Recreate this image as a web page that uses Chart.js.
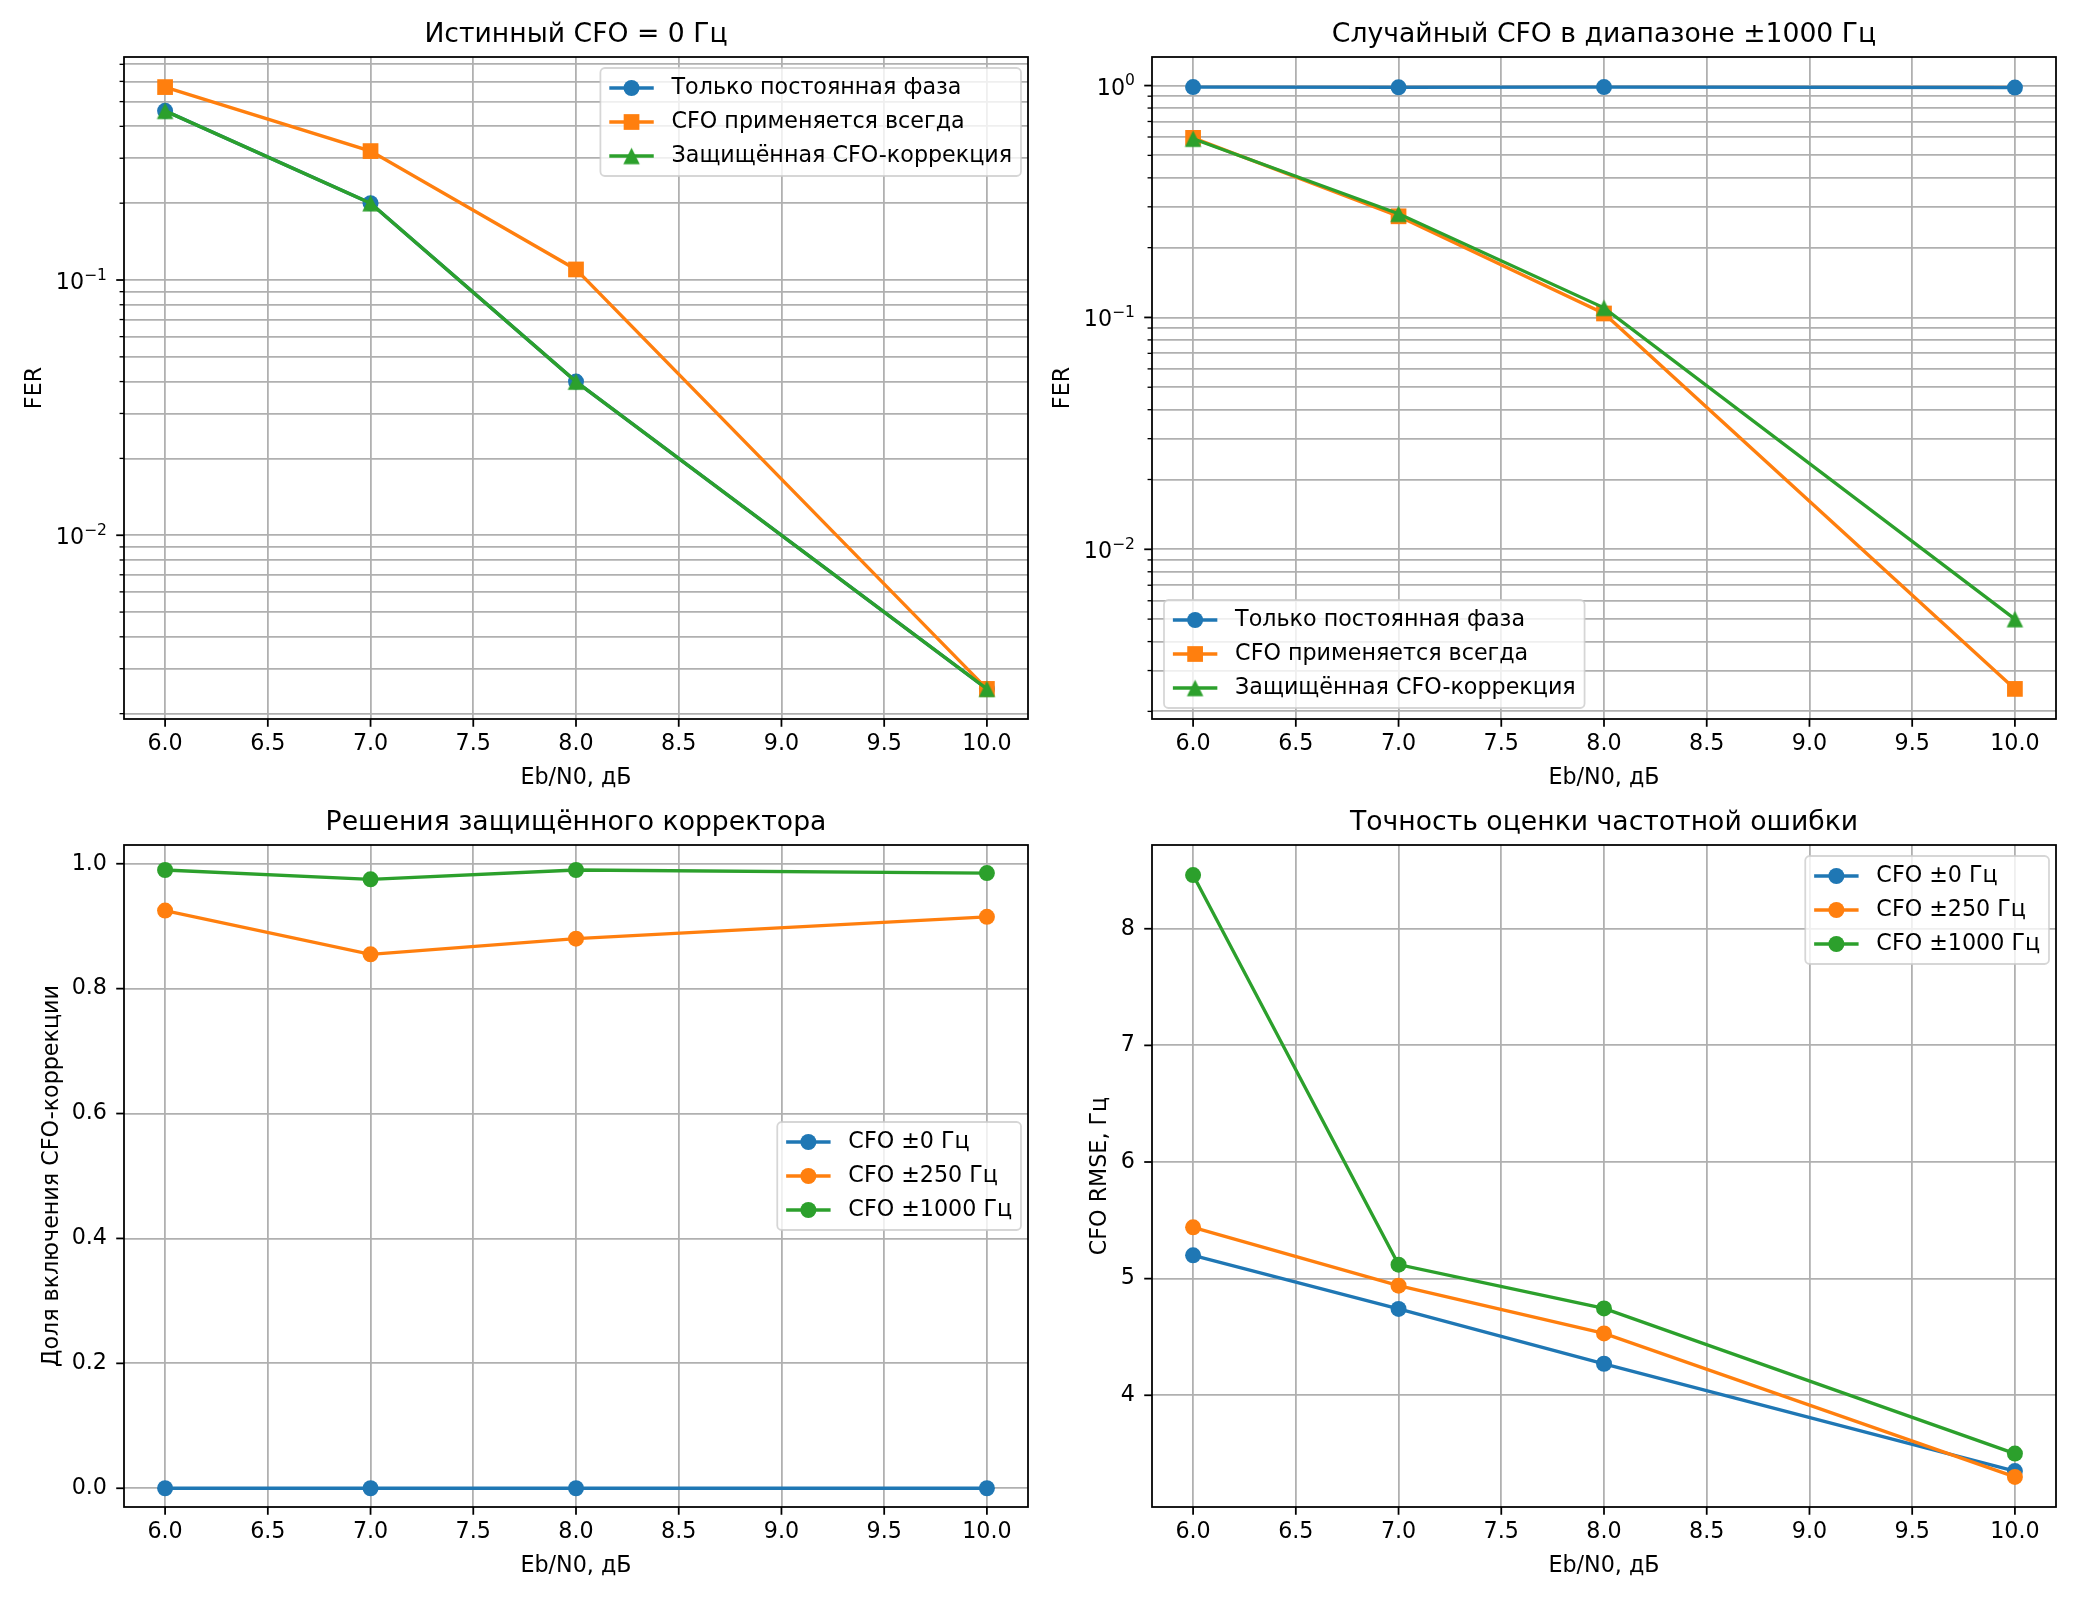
<!DOCTYPE html>
<html>
<head>
<meta charset="utf-8">
<script src="https://cdn.jsdelivr.net/npm/chart.js@4.4.1/dist/chart.umd.min.js"></script>
<style>
  html, body { margin: 0; padding: 0; background: #fff; }
  canvas { position: absolute; }
</style>
</head>
<body>
<canvas id="ferZero" width="1040" height="800" style="left:0;top:0"></canvas>
<canvas id="ferRandom" width="1040" height="800" style="left:1028px;top:0"></canvas>
<canvas id="decisions" width="1040" height="800" style="left:0;top:788px"></canvas>
<canvas id="rmse" width="1040" height="800" style="left:1028px;top:788px"></canvas>
<script>
// ---- data ----
const ebN0 = [6, 7, 8, 10];

// True CFO = 0 Hz
const ferZeroPhase = [0.46, 0.2, 0.04, 0.0025];
const ferZeroAlways = [0.57, 0.32, 0.11, 0.0025];
const ferZeroGuarded = [0.46, 0.2, 0.04, 0.0025];

// Random CFO within +-1000 Hz
const ferRandPhase = [0.985, 0.9825, 0.985, 0.98];
const ferRandAlways = [0.595, 0.273, 0.104, 0.0025];
const ferRandGuarded = [0.59, 0.28, 0.11, 0.005];

// share of frames where CFO correction was enabled
const enable0 = [0, 0, 0, 0];
const enable250 = [0.925, 0.855, 0.88, 0.915];
const enable1000 = [0.99, 0.975, 0.99, 0.985];

// CFO estimate RMSE, Hz
const rmse0 = [5.2, 4.74, 4.27, 3.35];
const rmse250 = [5.44, 4.94, 4.53, 3.3];
const rmse1000 = [8.46, 5.12, 4.745, 3.5];

// ticks
const xTicks = [6, 6.5, 7, 7.5, 8, 8.5, 9, 9.5, 10];
const xTickLabels = ['6.0', '6.5', '7.0', '7.5', '8.0', '8.5', '9.0', '9.5', '10.0'];
const ferTicks = [0.01, 0.1, 1];
const ferTickBase = '10';
const ferTickExponents = ['\u22122', '\u22121', '0'];
const shareTicks = [0, 0.2, 0.4, 0.6, 0.8, 1.0];
const shareTickLabels = ['0.0', '0.2', '0.4', '0.6', '0.8', '1.0'];
const rmseTicks = [4, 5, 6, 7, 8];
const rmseTickLabels = ['4', '5', '6', '7', '8'];
const shareLimits = [-0.03, 1.03];

const seriesNames = ['Только постоянная фаза', 'CFO применяется всегда', 'Защищённая CFO-коррекция'];
const cfoNames = ['CFO ±0 Гц', 'CFO ±250 Гц', 'CFO ±1000 Гц'];

// ---- style ----
const FONT = 'DejaVu Sans';
const PT = 160 / 72;
const COLORS = ['#1f77b4', '#ff7f0e', '#2ca02c'];
const AXIS_LEFT = 124;
const AXIS_BOTTOM_H = 81;
const TICK_FS = 10 * PT;

Chart.defaults.font.family = FONT;
Chart.defaults.color = '#000';

/**
 * matplotlib-like autoscale with 5% margins
 */
function linRange(values) {
    const lo = Math.min(...values), hi = Math.max(...values);
    const m = (hi - lo) * 0.05;
    return [lo - m, hi + m];
}

function logRange(values) {
    const logs = values.map(v => Math.log10(v));
    const [lo, hi] = linRange(logs);
    return [Math.pow(10, lo), Math.pow(10, hi)];
}

// major + minor ticks of a log axis
function logTickValues(min, max) {
    const out = [];
    for (let e = Math.floor(Math.log10(min)); e <= Math.ceil(Math.log10(max)); e++) {
        for (let k = 1; k < 10; k++) {
            const v = k * Math.pow(10, e);
            if (v >= min && v <= max) out.push(v);
        }
    }
    return out;
}

function tickIndex(values, v) {
    return values.findIndex(t => Math.abs(t - v) < 1e-9 * Math.max(1, Math.abs(t)));
}

function labelFor(values, labels, v) {
    const i = tickIndex(values, v);
    return i >= 0 ? labels[i] : '';
}

// matplotlib style "^" marker: isoceles triangle, bbox centred
function triangleMarker(color, size) {
    const c = document.createElement('canvas');
    const n = Math.ceil(size) + 2;
    c.width = n;
    c.height = n;
    const g = c.getContext('2d');
    const m = n / 2, h = size / 2;
    g.fillStyle = color;
    g.beginPath();
    g.moveTo(m, m - h);
    g.lineTo(m + h, m + h);
    g.lineTo(m - h, m + h);
    g.closePath();
    g.fill();
    return c;
}

/**
 * Frame, black tick marks and power-of-ten labels
 */
const frameAndTicks = {
    id: 'frameAndTicks',
    afterDatasetsDraw(chart, args, opts) {
        const {ctx, chartArea: a} = chart;
        ctx.save();
        ctx.strokeStyle = '#000';
        ctx.lineCap = 'butt';
        ['x', 'y'].forEach(id => {
            const s = chart.scales[id];
            const majors = id === 'x' ? xTicks : opts.yMajor;
            s.ticks.forEach(t => {
                const major = tickIndex(majors, t.value) >= 0;
                const len = major ? 3.5 * PT : 2 * PT;
                ctx.lineWidth = major ? 0.8 * PT : 0.6 * PT;
                const p = s.getPixelForValue(t.value);
                ctx.beginPath();
                if (id === 'x') {
                    ctx.moveTo(p, a.bottom);
                    ctx.lineTo(p, a.bottom + len);
                } else {
                    ctx.moveTo(a.left - len, p);
                    ctx.lineTo(a.left, p);
                }
                ctx.stroke();
            });
        });
        ctx.lineWidth = 0.8 * PT;
        ctx.strokeRect(a.left, a.top, a.right - a.left, a.bottom - a.top);

        // 10^n labels with a raised exponent
        if (opts.exponents) {
            const s = chart.scales.y;
            const right = a.left - 17;
            ctx.fillStyle = '#000';
            ctx.textAlign = 'left';
            ctx.textBaseline = 'alphabetic';
            opts.yMajor.forEach((v, i) => {
                if (v < s.min || v > s.max) return;
                const y = s.getPixelForValue(v);
                const expFont = (TICK_FS * 0.7) + 'px "' + FONT + '"';
                const baseFont = TICK_FS + 'px "' + FONT + '"';
                ctx.font = expFont;
                const we = ctx.measureText(opts.exponents[i]).width;
                ctx.font = baseFont;
                const wb = ctx.measureText(opts.base).width;
                ctx.fillText(opts.base, right - we - wb, y + 9);
                ctx.font = expFont;
                ctx.fillText(opts.exponents[i], right - we, y - 0.5);
            });
        }
        ctx.restore();
    }
};

/**
 * Boxed legend inside the axes
 */
const innerLegend = {
    id: 'innerLegend',
    afterDraw(chart, args, opts) {
        const {ctx, chartArea: a} = chart;
        const sets = chart.data.datasets;
        const fs = 10 * PT;
        ctx.save();
        ctx.font = fs + 'px "' + FONT + '"';
        const textW = Math.max(...sets.map(d => ctx.measureText(d.label).width));
        const pad = 0.4 * fs, handle = 2 * fs, gap = 0.8 * fs, row = 34;
        const w = pad + handle + gap + textW + pad;
        const h = 40 + row * (sets.length - 1);
        let x, y;
        if (opts.loc === 'lower left') {
            x = a.left + 12;
            y = a.bottom - 11 - h;
        } else if (opts.loc === 'center right') {
            x = a.right - 7 - w;
            y = (a.top + a.bottom) / 2 - h / 2;
        } else {
            x = a.right - 7 - w;
            y = a.top + 11;
        }
        ctx.beginPath();
        ctx.roundRect(x, y, w, h, 0.2 * fs);
        ctx.fillStyle = 'rgba(255,255,255,0.8)';
        ctx.fill();
        ctx.lineWidth = 0.8 * PT;
        ctx.strokeStyle = 'rgba(204,204,204,0.8)';
        ctx.stroke();

        sets.forEach((d, i) => {
            const cy = y + 20 + row * i;
            ctx.strokeStyle = d.borderColor;
            ctx.lineWidth = d.borderWidth;
            ctx.beginPath();
            ctx.moveTo(x + pad, cy);
            ctx.lineTo(x + pad + handle, cy);
            ctx.stroke();
            ctx.fillStyle = d.pointBackgroundColor;
            Chart.helpers.drawPoint(ctx, {
                pointStyle: d.pointStyle, radius: d.pointRadius, rotation: 0, borderWidth: 0
            }, x + pad + handle / 2, cy);
            ctx.fillStyle = '#000';
            ctx.textBaseline = 'middle';
            ctx.textAlign = 'left';
            ctx.fillText(d.label, x + pad + handle + gap, cy);
        });
        ctx.restore();
    }
};

const MARKERS = {
    circle: 3.6 * PT,
    rect: 5 * PT,
    triangle: 3.7 * PT
};

function series(label, values, i, style) {
    return {
        label: label,
        data: ebN0.map((x, k) => ({x: x, y: values[k]})),
        borderColor: COLORS[i],
        backgroundColor: COLORS[i],
        pointBackgroundColor: COLORS[i],
        borderWidth: 1.5 * PT,
        pointStyle: style === 'triangle' ? triangleMarker(COLORS[i], 7.4 * PT) : style,
        pointRadius: MARKERS[style],
        pointHoverRadius: MARKERS[style],
        pointBorderWidth: 0,
        tension: 0,
        order: 3 - i
    };
}

function makeChart(id, cfg) {
    const ctx = document.getElementById(id);
    if (!ctx) return;

    const tickFont = {family: FONT, size: TICK_FS};
    const labelFont = {family: FONT, size: 10 * PT};

    return new Chart(ctx, {
        type: 'line',
        data: {datasets: cfg.datasets},
        options: {
            responsive: false,
            devicePixelRatio: 1,
            animation: false,
            events: [],
            layout: {padding: {left: 0, right: 12, top: 0, bottom: 0}},
            plugins: {
                legend: {display: false},
                tooltip: {enabled: false},
                title: {
                    display: true,
                    fullSize: false,
                    text: cfg.title,
                    color: '#000',
                    font: {family: FONT, size: 12 * PT, weight: 'normal', lineHeight: 1.2},
                    padding: {top: 19, bottom: 6}
                },
                innerLegend: {loc: cfg.legend},
                frameAndTicks: {
                    yMajor: cfg.ticks,
                    base: cfg.log ? ferTickBase : null,
                    exponents: cfg.log ? ferTickExponents : null
                }
            },
            scales: {
                x: {
                    type: 'linear',
                    min: 5.8,
                    max: 10.2,
                    afterBuildTicks: s => { s.ticks = xTicks.map(v => ({value: v})); },
                    afterFit: s => { s.height = AXIS_BOTTOM_H; },
                    ticks: {
                        autoSkip: false,
                        maxRotation: 0,
                        padding: 12,
                        font: tickFont,
                        color: '#000',
                        callback: v => labelFor(xTicks, xTickLabels, v)
                    },
                    grid: {color: '#b0b0b0', lineWidth: 0.8 * PT, drawTicks: false},
                    border: {display: false},
                    title: {
                        display: true,
                        text: 'Eb/N0, дБ',
                        color: '#000',
                        font: labelFont,
                        padding: {top: 0, bottom: 8}
                    }
                },
                y: {
                    type: cfg.log ? 'logarithmic' : 'linear',
                    min: cfg.range[0],
                    max: cfg.range[1],
                    afterBuildTicks: s => { s.ticks = cfg.tickValues.map(v => ({value: v})); },
                    afterFit: s => { s.width = AXIS_LEFT; },
                    ticks: {
                        autoSkip: false,
                        display: !cfg.log,
                        padding: 17,
                        font: tickFont,
                        color: '#000',
                        callback: v => cfg.log ? '' : labelFor(cfg.ticks, cfg.tickLabels, v)
                    },
                    grid: {color: '#b0b0b0', lineWidth: 0.8 * PT, drawTicks: false},
                    border: {display: false},
                    title: {
                        display: true,
                        text: cfg.yLabel,
                        color: '#000',
                        font: labelFont,
                        padding: {top: cfg.yLabelPad, bottom: 0}
                    }
                }
            }
        },
        plugins: [frameAndTicks, innerLegend]
    });
}

document.addEventListener('DOMContentLoaded', function() {
    const zeroRange = logRange([].concat(ferZeroPhase, ferZeroAlways, ferZeroGuarded));
    makeChart('ferZero', {
        title: 'Истинный CFO = 0 Гц',
        yLabel: 'FER',
        yLabelPad: 22,
        log: true,
        range: zeroRange,
        tickValues: logTickValues(zeroRange[0], zeroRange[1]),
        ticks: ferTicks,
        legend: 'upper right',
        datasets: [
            series(seriesNames[0], ferZeroPhase, 0, 'circle'),
            series(seriesNames[1], ferZeroAlways, 1, 'rect'),
            series(seriesNames[2], ferZeroGuarded, 2, 'triangle')
        ]
    });

    const randRange = logRange([].concat(ferRandPhase, ferRandAlways, ferRandGuarded));
    makeChart('ferRandom', {
        title: 'Случайный CFO в диапазоне ±1000 Гц',
        yLabel: 'FER',
        yLabelPad: 22,
        log: true,
        range: randRange,
        tickValues: logTickValues(randRange[0], randRange[1]),
        ticks: ferTicks,
        legend: 'lower left',
        datasets: [
            series(seriesNames[0], ferRandPhase, 0, 'circle'),
            series(seriesNames[1], ferRandAlways, 1, 'rect'),
            series(seriesNames[2], ferRandGuarded, 2, 'triangle')
        ]
    });

    makeChart('decisions', {
        title: 'Решения защищённого корректора',
        yLabel: 'Доля включения CFO-коррекции',
        yLabelPad: 39,
        log: false,
        range: shareLimits,
        tickValues: shareTicks,
        ticks: shareTicks,
        tickLabels: shareTickLabels,
        legend: 'center right',
        datasets: [
            series(cfoNames[0], enable0, 0, 'circle'),
            series(cfoNames[1], enable250, 1, 'circle'),
            series(cfoNames[2], enable1000, 2, 'circle')
        ]
    });

    makeChart('rmse', {
        title: 'Точность оценки частотной ошибки',
        yLabel: 'CFO RMSE, Гц',
        yLabelPad: 59,
        log: false,
        range: linRange([].concat(rmse0, rmse250, rmse1000)),
        tickValues: rmseTicks,
        ticks: rmseTicks,
        tickLabels: rmseTickLabels,
        legend: 'upper right',
        datasets: [
            series(cfoNames[0], rmse0, 0, 'circle'),
            series(cfoNames[1], rmse250, 1, 'circle'),
            series(cfoNames[2], rmse1000, 2, 'circle')
        ]
    });
});
</script>
</body>
</html>
